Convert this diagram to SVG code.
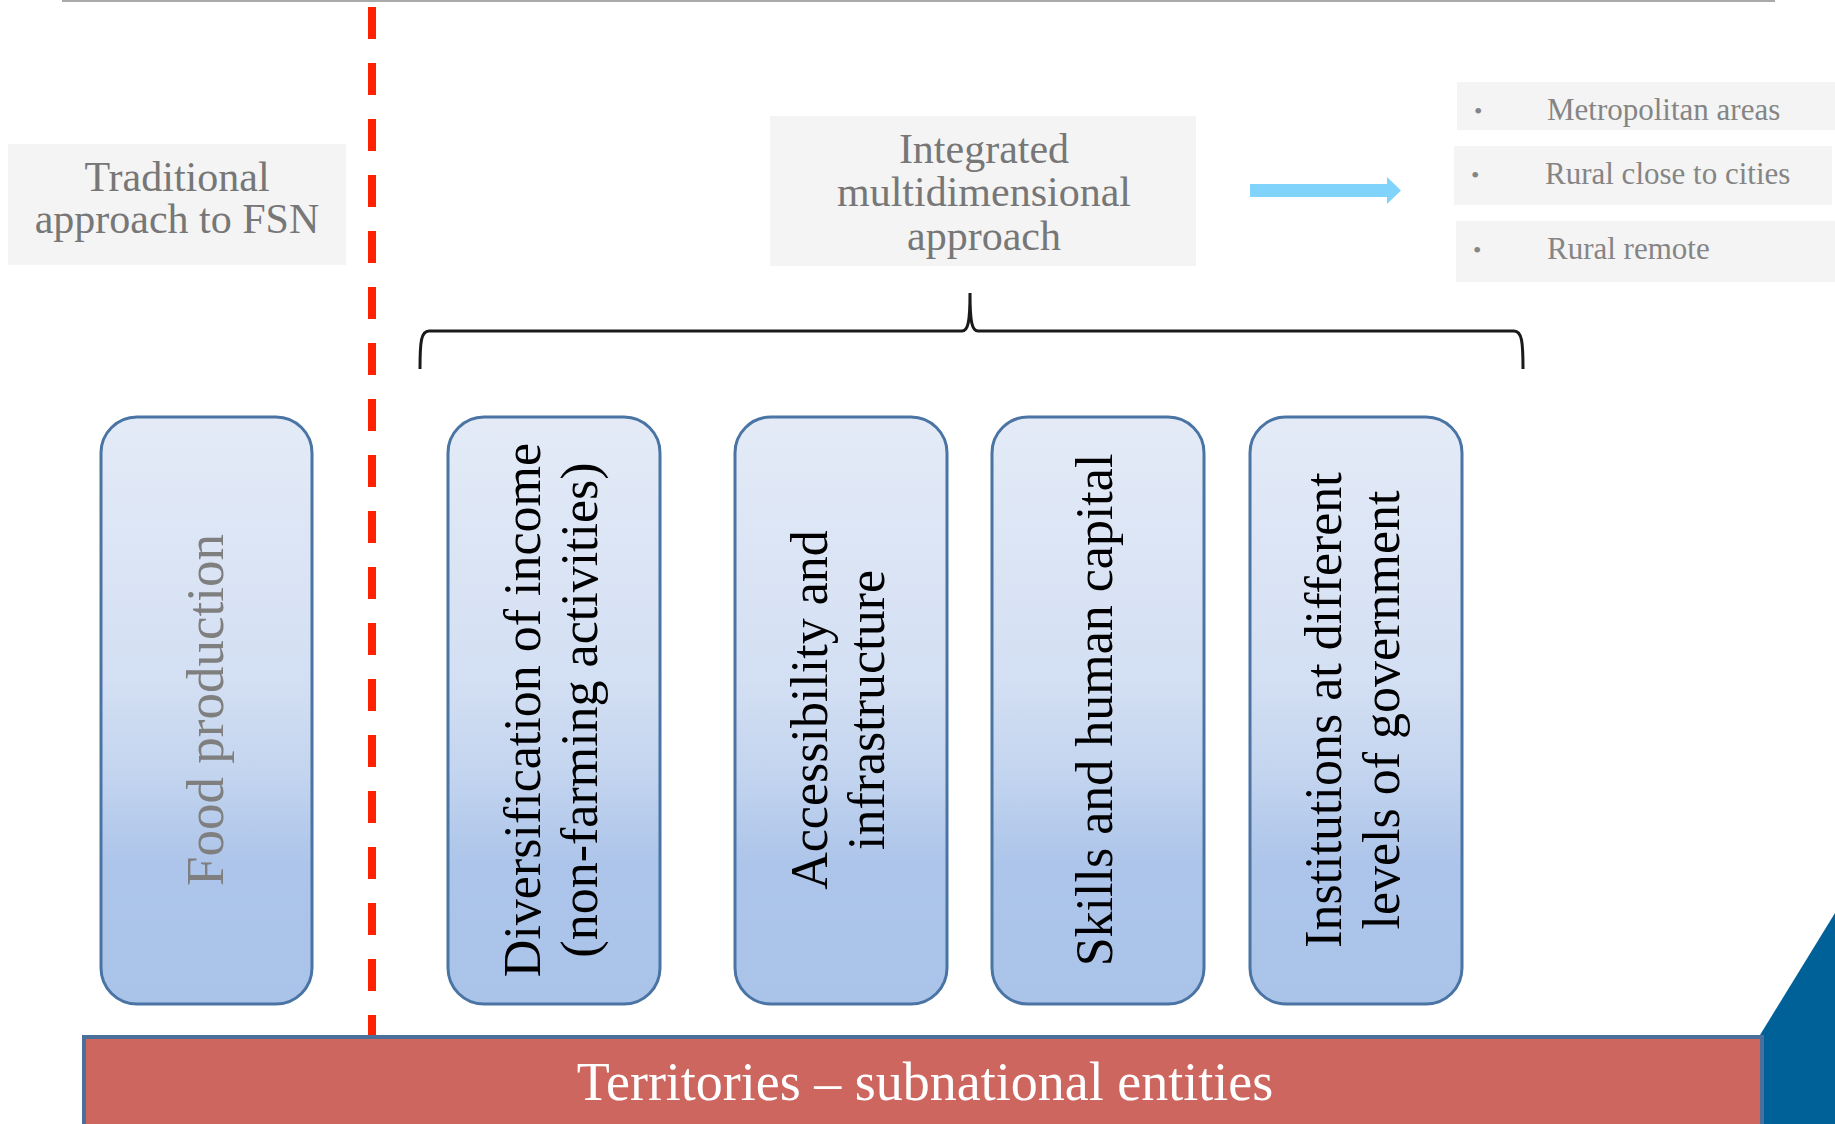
<svg xmlns="http://www.w3.org/2000/svg" width="1835" height="1124" viewBox="0 0 1835 1124">
<defs>
<linearGradient id="boxGrad" x1="0" y1="0" x2="0" y2="1">
<stop offset="0" stop-color="#e4ebf7"/>
<stop offset="0.45" stop-color="#d3dff3"/>
<stop offset="0.6" stop-color="#c4d5ef"/>
<stop offset="0.76" stop-color="#adc5ea"/>
<stop offset="1" stop-color="#aac3e8"/>
</linearGradient>
<style>
.serif{font-family:"Liberation Serif","DejaVu Serif",serif;}
.gbox{fill:#f4f4f4;}
.gtext{fill:#777777;font-size:42px;text-anchor:middle;}
.ltext{fill:#858585;font-size:31px;}
.bul{fill:#858585;font-size:24px;}
.pill{fill:url(#boxGrad);stroke:#4a74a3;stroke-width:3;}
.vt{font-size:52px;text-anchor:middle;fill:#000;}
.vtg{fill:#7f7f7f;font-size:53px;}
</style>
</defs>
<rect width="1835" height="1124" fill="#ffffff"/>
<line x1="62" y1="1" x2="1775" y2="1" stroke="#8c8c8c" stroke-width="1.5"/>
<polygon points="1835,913 1760,1035 1760,1124 1835,1124" fill="#006098"/>
<line id="divider" x1="372" y1="7" x2="372" y2="1036" stroke="#ff2200" stroke-width="8" stroke-dasharray="32 24"/>

<g id="traditional" class="serif">
<rect class="gbox" x="8" y="144" width="338" height="121"/>
<text class="gtext" x="177" y="191">Traditional</text>
<text class="gtext" x="177" y="233">approach to FSN</text>
</g>

<g id="integrated" class="serif">
<rect class="gbox" x="770" y="116" width="426" height="150"/>
<text class="gtext" x="984" y="163">Integrated</text>
<text class="gtext" x="984" y="206">multidimensional</text>
<text class="gtext" x="984" y="250">approach</text>
</g>

<g id="metropolitan" class="serif">
<rect class="gbox" x="1457" y="82" width="378" height="48"/>
<text class="bul" x="1474" y="119">•</text>
<text class="ltext" x="1547" y="120">Metropolitan areas</text>
</g>
<g id="rural-close" class="serif">
<rect class="gbox" x="1454" y="146" width="378" height="59"/>
<text class="bul" x="1471" y="183">•</text>
<text class="ltext" x="1545" y="184">Rural close to cities</text>
</g>
<g id="rural-remote" class="serif">
<rect class="gbox" x="1456" y="221" width="379" height="61"/>
<text class="bul" x="1473" y="258">•</text>
<text class="ltext" x="1547" y="259">Rural remote</text>
</g>

<g id="connectors">
<path d="M420,369 C420,342 421,331 429,331 L962,331 C968,331 970,322 970,293 C970,322 972,331 978,331 L1514,331 C1522,331 1523,342 1523,369" fill="none" stroke="#1a1a1a" stroke-width="3"/>
<polygon points="1250,184 1387,184 1387,177 1401,190.5 1387,204 1387,197 1250,197" fill="#80d4fc"/>
</g>

<g id="food-production" class="serif">
<rect class="pill" x="101" y="417" width="211" height="587" rx="36" ry="36"/>
<text class="vt vtg" transform="translate(223,710) rotate(-90)">Food production</text>
</g>

<g id="diversification" class="serif">
<rect class="pill" x="448" y="417" width="212" height="587" rx="36" ry="36"/>
<text class="vt" transform="translate(540,710) rotate(-90)">Diversification of income</text>
<text class="vt" transform="translate(597,710) rotate(-90)">(non-farming activities)</text>
</g>

<g id="accessibility" class="serif">
<rect class="pill" x="735" y="417" width="212" height="587" rx="36" ry="36"/>
<text class="vt" transform="translate(827,710) rotate(-90)">Accessibility and</text>
<text class="vt" transform="translate(884,710) rotate(-90)">infrastructure</text>
</g>

<g id="skills" class="serif">
<rect class="pill" x="992" y="417" width="212" height="587" rx="36" ry="36"/>
<text class="vt" transform="translate(1112,710) rotate(-90)">Skills and human capital</text>
</g>

<g id="institutions" class="serif">
<rect class="pill" x="1250" y="417" width="212" height="587" rx="36" ry="36"/>
<text class="vt" transform="translate(1341,710) rotate(-90)">Institutions at different</text>
<text class="vt" transform="translate(1399,710) rotate(-90)">levels of government</text>
</g>

<g id="territories" class="serif">
<rect x="84" y="1037" width="1678" height="92" fill="#cd665f" stroke="#4a6f9a" stroke-width="4"/>
<text x="925" y="1100" fill="#ffffff" font-size="54" text-anchor="middle">Territories – subnational entities</text>
</g>
</svg>
